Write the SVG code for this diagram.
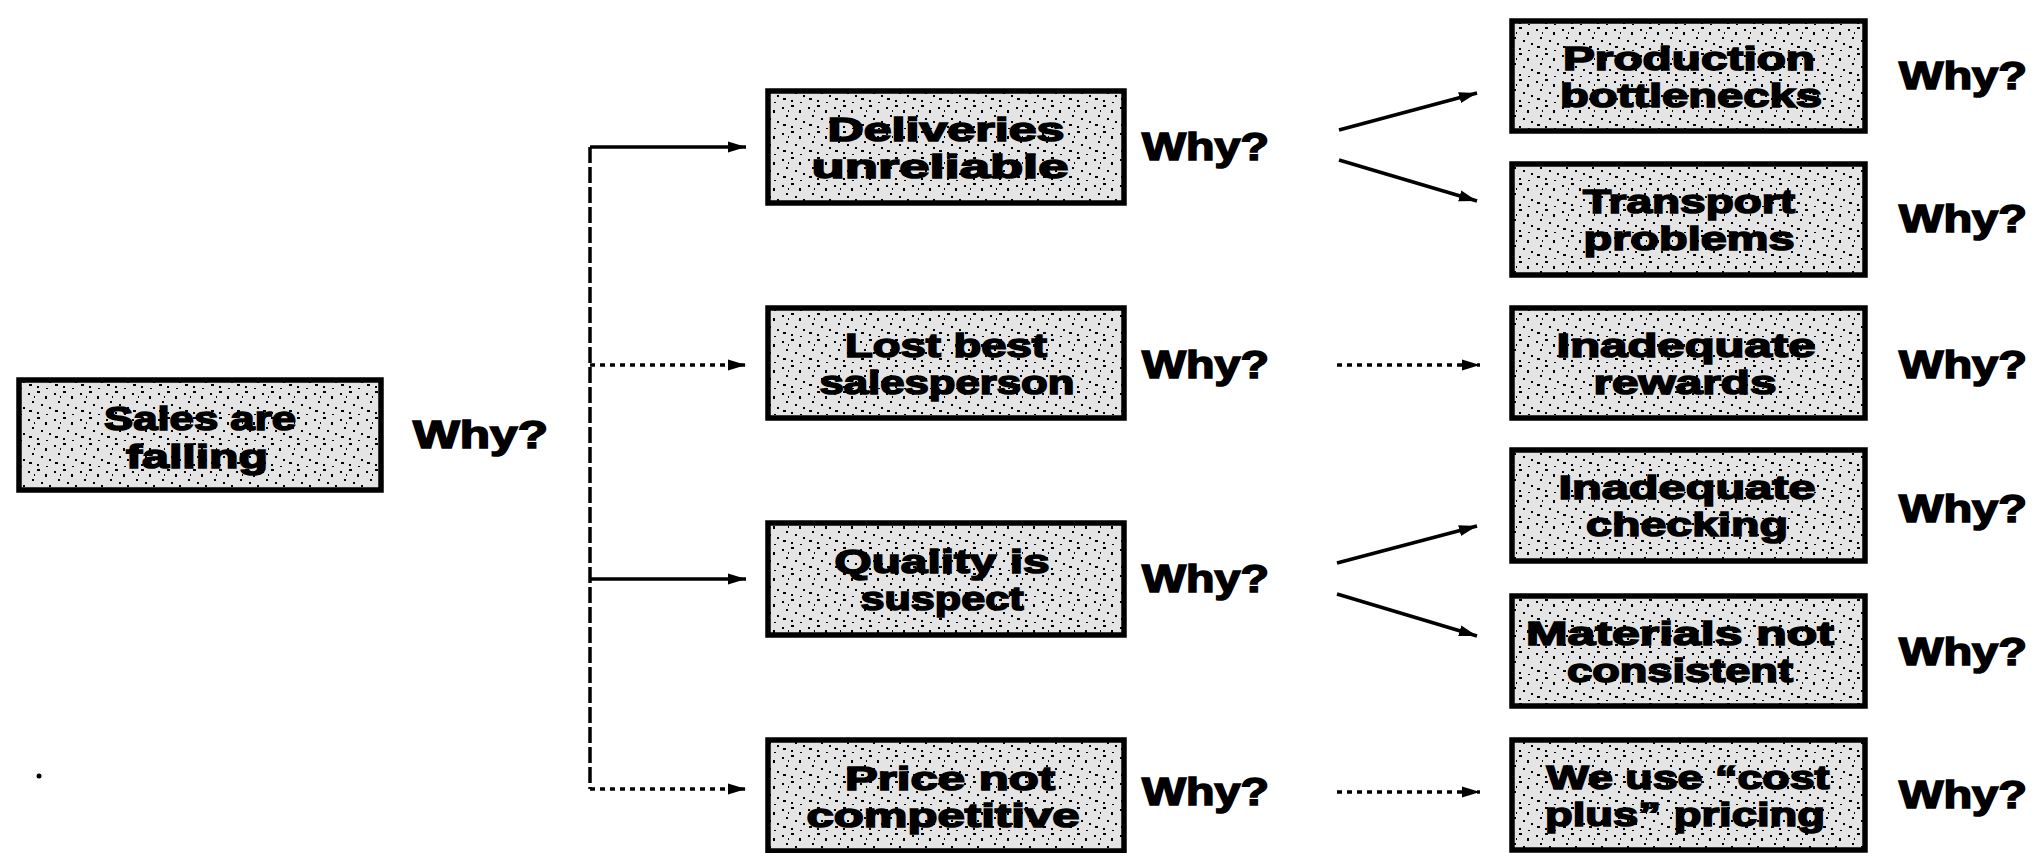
<svg xmlns="http://www.w3.org/2000/svg" width="2035" height="853" viewBox="0 0 2035 853">
<style>
.box{fill:url(#stip);stroke:#000;stroke-width:5.5}
.t{font-family:"Liberation Sans",Arial,sans-serif;font-weight:bold;font-size:34px;fill:#000;stroke:#000;stroke-width:1.6;text-anchor:middle}
.why{font-family:"Liberation Sans",Arial,sans-serif;font-weight:bold;font-size:38px;fill:#000;stroke:#000;stroke-width:1.6}
.c{fill:none;stroke:#000;stroke-width:3.5}
.dot{stroke-dasharray:5 5}
.dash{stroke-dasharray:16 4}
</style>
<defs>
<pattern id="stip" width="26" height="26" patternUnits="userSpaceOnUse">
<rect width="26" height="26" fill="#e4e4e4"/>
<rect x="2" y="3" width="2" height="2" fill="#000"/>
<rect x="11" y="1" width="3" height="2" fill="#000"/>
<rect x="19" y="6" width="2" height="3" fill="#000"/>
<rect x="6" y="11" width="2" height="2" fill="#000"/>
<rect x="15" y="14" width="2" height="2" fill="#000"/>
<rect x="23" y="17" width="2" height="2" fill="#000"/>
<rect x="3" y="20" width="3" height="2" fill="#000"/>
<rect x="11" y="22" width="2" height="2" fill="#000"/>
<rect x="20" y="24" width="2" height="1" fill="#000"/>
<rect x="8" y="6" width="1" height="2" fill="#000"/>
</pattern>
<marker id="ah" markerUnits="userSpaceOnUse" markerWidth="20" markerHeight="14" refX="18" refY="7" orient="auto">
<path d="M0,1.5 L18,7 L0,12.5 z" fill="#000"/>
</marker>
</defs>

<g id="connectors">
<path class="c dash" d="M590,147 V789"/>
<path class="c" d="M590,147 H746" marker-end="url(#ah)"/>
<path class="c dot" d="M590,365 H746" marker-end="url(#ah)"/>
<path class="c" d="M590,579 H746" marker-end="url(#ah)"/>
<path class="c dot" d="M590,789 H746" marker-end="url(#ah)"/>
<path class="c" d="M1339,130 L1477,93" marker-end="url(#ah)"/>
<path class="c" d="M1339,160 L1477,201" marker-end="url(#ah)"/>
<path class="c dot" d="M1337,365 H1480" marker-end="url(#ah)"/>
<path class="c" d="M1337,563 L1477,526" marker-end="url(#ah)"/>
<path class="c" d="M1337,594 L1477,636" marker-end="url(#ah)"/>
<path class="c dot" d="M1337,792 H1480" marker-end="url(#ah)"/>
</g>

<g id="sales">
<rect class="box" x="19" y="380" width="362" height="110"/>
<text class="t" x="200" y="430" textLength="192" lengthAdjust="spacingAndGlyphs">Sales are</text>
<text class="t" x="197" y="468" textLength="142" lengthAdjust="spacingAndGlyphs">falling</text>
<text class="why" x="413" y="448" textLength="135" lengthAdjust="spacingAndGlyphs">Why?</text>
</g>

<g id="deliveries">
<rect class="box" x="768" y="91" width="356" height="112"/>
<text class="t" x="946" y="141" textLength="237" lengthAdjust="spacingAndGlyphs">Deliveries</text>
<text class="t" x="940" y="178" textLength="257" lengthAdjust="spacingAndGlyphs">unreliable</text>
<text class="why" x="1142" y="160" textLength="127" lengthAdjust="spacingAndGlyphs">Why?</text>
</g>

<g id="lost">
<rect class="box" x="768" y="308" width="356" height="110"/>
<text class="t" x="946" y="357" textLength="202" lengthAdjust="spacingAndGlyphs">Lost best</text>
<text class="t" x="947" y="394" textLength="255" lengthAdjust="spacingAndGlyphs">salesperson</text>
<text class="why" x="1142" y="378" textLength="127" lengthAdjust="spacingAndGlyphs">Why?</text>
</g>

<g id="quality">
<rect class="box" x="768" y="523" width="356" height="112"/>
<text class="t" x="942" y="573" textLength="215" lengthAdjust="spacingAndGlyphs">Quality is</text>
<text class="t" x="942" y="610" textLength="163" lengthAdjust="spacingAndGlyphs">suspect</text>
<text class="why" x="1142" y="592" textLength="127" lengthAdjust="spacingAndGlyphs">Why?</text>
</g>

<g id="price">
<rect class="box" x="768" y="740" width="356" height="111"/>
<text class="t" x="950" y="790" textLength="210" lengthAdjust="spacingAndGlyphs">Price not</text>
<text class="t" x="943" y="827" textLength="273" lengthAdjust="spacingAndGlyphs">competitive</text>
<text class="why" x="1142" y="805" textLength="127" lengthAdjust="spacingAndGlyphs">Why?</text>
</g>

<g id="production">
<rect class="box" x="1512" y="21" width="353" height="110"/>
<text class="t" x="1689" y="70" textLength="252" lengthAdjust="spacingAndGlyphs">Production</text>
<text class="t" x="1691" y="107" textLength="262" lengthAdjust="spacingAndGlyphs">bottlenecks</text>
<text class="why" x="1899" y="89" textLength="128" lengthAdjust="spacingAndGlyphs">Why?</text>
</g>

<g id="transport">
<rect class="box" x="1512" y="164" width="353" height="111"/>
<text class="t" x="1689" y="213" textLength="212" lengthAdjust="spacingAndGlyphs">Transport</text>
<text class="t" x="1689" y="250" textLength="211" lengthAdjust="spacingAndGlyphs">problems</text>
<text class="why" x="1899" y="232" textLength="128" lengthAdjust="spacingAndGlyphs">Why?</text>
</g>

<g id="rewards">
<rect class="box" x="1512" y="308" width="353" height="110"/>
<text class="t" x="1686" y="357" textLength="259" lengthAdjust="spacingAndGlyphs">Inadequate</text>
<text class="t" x="1685" y="394" textLength="183" lengthAdjust="spacingAndGlyphs">rewards</text>
<text class="why" x="1899" y="378" textLength="128" lengthAdjust="spacingAndGlyphs">Why?</text>
</g>

<g id="checking">
<rect class="box" x="1512" y="450" width="353" height="111"/>
<text class="t" x="1687" y="499" textLength="257" lengthAdjust="spacingAndGlyphs">Inadequate</text>
<text class="t" x="1687" y="536" textLength="202" lengthAdjust="spacingAndGlyphs">checking</text>
<text class="why" x="1899" y="522" textLength="128" lengthAdjust="spacingAndGlyphs">Why?</text>
</g>

<g id="materials">
<rect class="box" x="1512" y="596" width="353" height="110"/>
<text class="t" x="1680" y="645" textLength="308" lengthAdjust="spacingAndGlyphs">Materials not</text>
<text class="t" x="1680" y="682" textLength="226" lengthAdjust="spacingAndGlyphs">consistent</text>
<text class="why" x="1899" y="665" textLength="128" lengthAdjust="spacingAndGlyphs">Why?</text>
</g>

<g id="pricing">
<rect class="box" x="1512" y="740" width="353" height="110"/>
<text class="t" x="1688" y="789" textLength="283" lengthAdjust="spacingAndGlyphs">We use “cost</text>
<text class="t" x="1685" y="826" textLength="280" lengthAdjust="spacingAndGlyphs">plus” pricing</text>
<text class="why" x="1899" y="808" textLength="128" lengthAdjust="spacingAndGlyphs">Why?</text>
</g>

<circle cx="39" cy="776" r="2.5" fill="#000"/>
</svg>
